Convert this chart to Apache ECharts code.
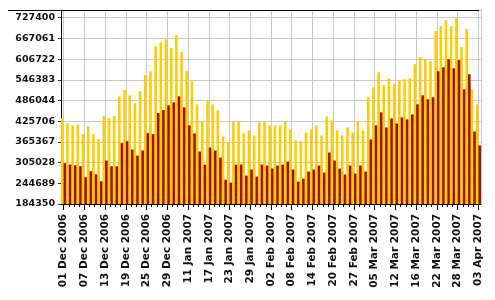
<!DOCTYPE html>
<html>
<head>
<meta charset="utf-8">
<script src="https://cdn.jsdelivr.net/npm/echarts@6/dist/echarts.min.js"></script>
<style>
html,body{margin:0;padding:0;background:#fff;}
#chart{width:495px;height:300px;}
</style>
</head>
<body>
<div id="chart"></div>
<script>
const categories = [
"01 Dec 2006","04 Dec 2006","05 Dec 2006","06 Dec 2006","07 Dec 2006","08 Dec 2006","11 Dec 2006","12 Dec 2006",
"13 Dec 2006","14 Dec 2006","15 Dec 2006","18 Dec 2006","19 Dec 2006","20 Dec 2006","21 Dec 2006","22 Dec 2006",
"25 Dec 2006","26 Dec 2006","27 Dec 2006","28 Dec 2006","29 Dec 2006","08 Jan 2007","09 Jan 2007","10 Jan 2007",
"11 Jan 2007","12 Jan 2007","15 Jan 2007","16 Jan 2007","17 Jan 2007","18 Jan 2007","19 Jan 2007","22 Jan 2007",
"23 Jan 2007","24 Jan 2007","25 Jan 2007","26 Jan 2007","29 Jan 2007","30 Jan 2007","31 Jan 2007","01 Feb 2007",
"02 Feb 2007","05 Feb 2007","06 Feb 2007","07 Feb 2007","08 Feb 2007","09 Feb 2007","12 Feb 2007","13 Feb 2007",
"14 Feb 2007","15 Feb 2007","16 Feb 2007","19 Feb 2007","20 Feb 2007","21 Feb 2007","22 Feb 2007","23 Feb 2007",
"27 Feb 2007","28 Feb 2007","01 Mar 2007","02 Mar 2007","05 Mar 2007","06 Mar 2007","07 Mar 2007","08 Mar 2007",
"12 Mar 2007","13 Mar 2007","14 Mar 2007","15 Mar 2007","16 Mar 2007","19 Mar 2007","20 Mar 2007","21 Mar 2007",
"22 Mar 2007","23 Mar 2007","26 Mar 2007","27 Mar 2007","28 Mar 2007","29 Mar 2007","30 Mar 2007","02 Apr 2007",
"03 Apr 2007"
];

const yellowValues = [
434874,420252,413428,416352,388083,410504,388083,373461,
440722,434874,440722,498236,516757,501160,477765,513832,
559648,571346,644456,656153,663952,638607,676624,626909,
571346,542102,474840,425126,486538,474840,457294,381260,
364688,425126,425126,390033,398806,384184,422201,425126,
413428,413428,413428,425126,401730,369562,366638,392957,
401730,413428,384184,439748,428050,398806,384184,407579,
392957,425126,398806,495311,524555,568421,530404,550875,
533328,545026,547950,550875,591816,612287,606438,600590,
688322,702944,720490,702944,726339,641531,694170,518706,
474840
];

const redValues = [
303276,299376,297427,294502,262334,279880,271107,250636,
311074,294502,294502,361764,367612,343242,325696,340318,
391008,388083,449496,458269,471916,480689,498236,466067,
413428,390033,337394,299376,349091,340318,319847,255510,
246737,299376,299376,267208,284754,264284,299376,296452,
287679,296452,299376,308150,284754,249662,258435,278906,
284754,296452,275981,334469,311074,287679,270132,296452,
273057,296452,278906,372486,413428,451445,407579,433899,
419277,436823,430974,445596,474840,501160,489462,495311,
571346,583043,606438,580119,603514,518706,562572,395882,
354940
];

const yTickLabels = ["184350","244689","305028","365367","425706","486044","546383","606722","667061","727400"];

const Y_MIN = 184350;
const Y_LAST = 727400;
const Y_TOP = 749850;
const Y_STEP = (Y_LAST - Y_MIN) / (yTickLabels.length - 1);
const IDX_MAX = (Y_TOP - Y_MIN) / Y_STEP;

const FONT = 'DejaVu Sans';
const chart = echarts.init(document.getElementById('chart'), null, {renderer: 'canvas'});

chart.setOption({
  animation: false,
  backgroundColor: '#ffffff',
  grid: {left: 61, right: 14, top: 10, bottom: 96, containLabel: false},
  xAxis: [
    {
      type: 'category',
      data: categories,
      position: 'bottom',
      boundaryGap: true,
      axisLine: {show: true, lineStyle: {color: '#000', width: 1}},
      axisTick: {show: true, interval: 0, length: 3, alignWithLabel: true, lineStyle: {color: '#000', width: 1}},
      axisLabel: {
        interval: 3, rotate: 90, margin: 10,
        fontFamily: FONT, fontWeight: 'bold', fontSize: 10.5, color: '#111'
      },
      splitLine: {show: true, interval: 3, alignWithLabel: true, lineStyle: {color: '#c8c8c8', width: 1}}
    },
    {
      type: 'category',
      data: categories,
      position: 'bottom',
      boundaryGap: true,
      axisLine: {show: false},
      axisTick: {show: true, interval: 3, length: 6, alignWithLabel: true, lineStyle: {color: '#000', width: 1}},
      axisLabel: {show: false},
      splitLine: {show: false}
    }
  ],
  yAxis: [
    {
      type: 'value',
      position: 'left',
      min: 0,
      max: IDX_MAX,
      interval: 1,
      axisLine: {show: true, lineStyle: {color: '#000', width: 1}},
      axisTick: {show: true, length: 3, lineStyle: {color: '#333', width: 1}},
      axisLabel: {
        margin: 6,
        fontFamily: FONT, fontWeight: 'bold', fontSize: 9.5, color: '#111',
        formatter: function (v) {
          const i = Math.round(v);
          if (Math.abs(v - i) > 1e-6 || i < 0 || i >= yTickLabels.length) return '';
          return yTickLabels[i];
        }
      },
      splitLine: {show: true, lineStyle: {color: '#c8c8c8', width: 1}}
    },
    {
      type: 'value',
      position: 'right',
      min: Y_MIN,
      max: Y_TOP,
      axisLine: {show: true, lineStyle: {color: '#c8c8c8', width: 1}},
      axisTick: {show: false},
      axisLabel: {show: false},
      splitLine: {show: false}
    }
  ],
  graphic: [
    {
      type: 'line', z: 100,
      shape: {x1: 8, y1: 10.5, x2: 479, y2: 10.5},
      style: {stroke: '#000', lineWidth: 1}
    }
  ],
  series: [
    {
      type: 'bar', name: 'yellow',
      xAxisIndex: 0, yAxisIndex: 1,
      data: yellowValues,
      barGap: '0%', barCategoryGap: '0%',
      itemStyle: {color: '#FFCC00'}
    },
    {
      type: 'bar', name: 'red',
      xAxisIndex: 0, yAxisIndex: 1,
      data: redValues,
      barGap: '0%', barCategoryGap: '0%',
      itemStyle: {color: '#A01500'}
    }
  ]
});
</script>
</body>
</html>
